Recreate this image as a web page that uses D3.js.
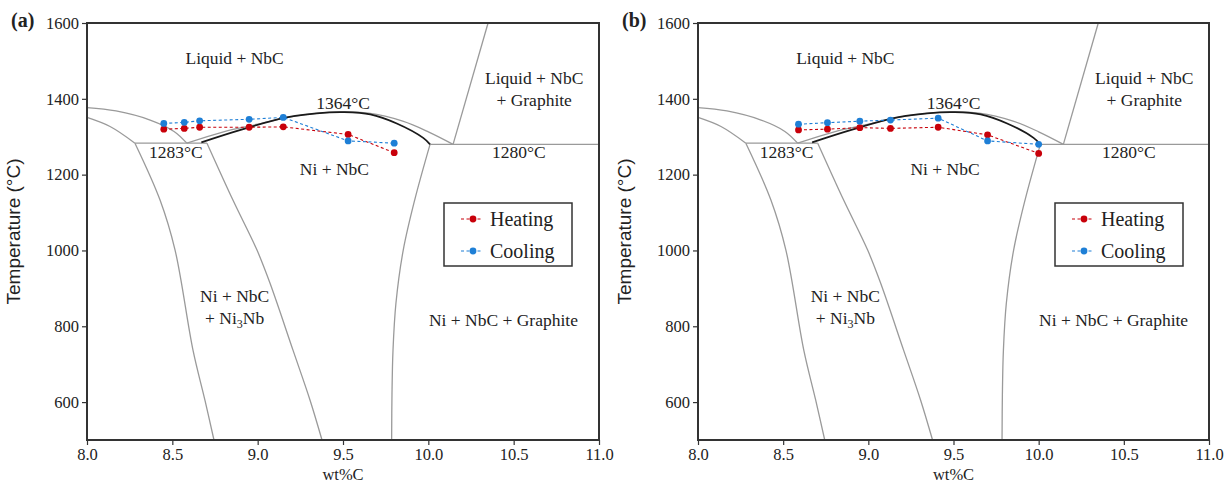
<!DOCTYPE html>
<html><head><meta charset="utf-8">
<script src="https://cdn.jsdelivr.net/npm/d3@7"></script>
<style>body{margin:0;background:#fff}</style>
</head><body><svg id="c" width="1231" height="485"></svg>
<script>
// ---- data ----
const xTicks = [8.0, 8.5, 9.0, 9.5, 10.0, 10.5, 11.0];
const yTicks = [600, 800, 1000, 1200, 1400, 1600];
const seriesNames = ["Heating", "Cooling"];

const heatA_wt = [8.45, 8.57, 8.66, 8.95, 9.15, 9.53, 9.80];
const heatA_T  = [1320, 1322, 1325, 1325, 1326, 1306, 1258];
const coolA_wt = [8.45, 8.57, 8.66, 8.95, 9.15, 9.53, 9.80];
const coolA_T  = [1335, 1338, 1342, 1346, 1351, 1289, 1283];

const heatB_wt = [8.59, 8.76, 8.95, 9.13, 9.41, 9.70, 10.0];
const heatB_T  = [1318, 1320, 1324, 1322, 1325, 1305, 1256];
const coolB_wt = [8.59, 8.76, 8.95, 9.13, 9.41, 9.70, 10.0];
const coolB_T  = [1333, 1337, 1341, 1344, 1349, 1289, 1280];

// phase boundaries [wt%C, T]
const liqLeftUpper = [[8.0,1377],[8.17,1368],[8.37,1344],[8.51,1314],[8.585,1283]];
const liqLeftLower = [[8.0,1351],[8.135,1327],[8.281,1283]];
const eutectic1283 = [[8.281,1283],[8.703,1283]];
const leftBoundary = [[8.281,1283],[8.428,1133],[8.516,1001],[8.621,737],[8.691,605],[8.744,500]];
const midBoundary  = [[8.703,1283],[8.855,1133],[8.996,1001],[9.072,914],[9.207,737],[9.307,605],[9.377,500]];
const liqRightGrey = [[8.585,1283],[8.8,1313],[9.0,1333],[9.2,1353],[9.45,1365],[9.65,1362],[9.85,1341],[10.0,1313],[10.145,1280]];
const liqRightBlack= [[8.67,1285],[8.9,1318],[9.17,1351],[9.42,1364],[9.5,1365],[9.66,1359],[9.815,1335],[9.97,1297],[10.01,1280]];
const graphiteLine = [[10.145,1280],[10.35,1600]];
const eutectic1280 = [[10.01,1280],[11.0,1280]];
const rightBoundary= [[10.01,1280],[9.92,1133],[9.853,1001],[9.81,860],[9.793,737],[9.787,620],[9.785,500]];

const RED = "#c8000a", BLUE = "#1e7fd6";
const SERIF = "'Liberation Serif', 'Times New Roman', serif";
const SANS = "'Liberation Sans', Arial, sans-serif";

const svg = d3.select("#c");

function panel(left, right, tag, heat_wt, heat_T, cool_wt, cool_T) {
  const top = 23, bottom = 440;
  const x = d3.scaleLinear().domain([8, 11]).range([left, right]);
  const y = d3.scaleLinear().domain([500, 1600]).range([bottom, top]);
  const g = svg.append("g");

  const line = d3.line().x(d => x(d[0])).y(d => y(d[1]));
  const curve = d3.line().x(d => x(d[0])).y(d => y(d[1])).curve(d3.curveCatmullRom.alpha(0.5));

  const grey = "#9a9a9a";
  [liqLeftUpper, liqLeftLower, leftBoundary, midBoundary, liqRightGrey, rightBoundary].forEach(p => {
    g.append("path").attr("d", curve(p)).attr("fill", "none").attr("stroke", grey).attr("stroke-width", 1.3);
  });
  [eutectic1283, graphiteLine, eutectic1280].forEach(p => {
    g.append("path").attr("d", line(p)).attr("fill", "none").attr("stroke", grey).attr("stroke-width", 1.3);
  });
  g.append("path").attr("d", curve(liqRightBlack)).attr("fill", "none").attr("stroke", "#1a1a1a").attr("stroke-width", 1.8);

  // data series
  const series = [
    {wt: heat_wt, T: heat_T, c: RED},
    {wt: cool_wt, T: cool_T, c: BLUE}
  ];
  series.forEach(s => {
    const pts = s.wt.map((w, i) => [w, s.T[i]]);
    g.append("path").attr("d", line(pts)).attr("fill", "none").attr("stroke", s.c)
      .attr("stroke-width", 1.1).attr("stroke-dasharray", "3,2.5");
    g.selectAll(null).data(pts).enter().append("circle")
      .attr("cx", d => x(d[0])).attr("cy", d => y(d[1])).attr("r", 3.4).attr("fill", s.c);
  });

  // labels
  const LS = 17.5;
  const lab = (txt, wt, T) => g.append("text").attr("x", x(wt)).attr("y", y(T))
      .attr("text-anchor", "middle").attr("font-family", SERIF).attr("font-size", LS)
      .attr("fill", "#222").text(txt);
  lab("Liquid + NbC", 8.865, 1493);
  lab("Liquid + NbC", 10.62, 1440);
  lab("+ Graphite", 10.62, 1380);
  lab("1364°C", 9.5, 1373);
  lab("1283°C", 8.52, 1245);
  lab("1280°C", 10.53, 1245);
  lab("Ni + NbC", 9.45, 1200);
  lab("Ni + NbC", 8.865, 865);
  const t3 = g.append("text").attr("x", x(8.865)).attr("y", y(805)).attr("text-anchor", "middle")
      .attr("font-family", SERIF).attr("font-size", LS).attr("fill", "#222");
  t3.append("tspan").text("+ Ni");
  t3.append("tspan").attr("font-size", 12).attr("dy", 4).text("3");
  t3.append("tspan").attr("dy", -4).text("Nb");
  lab("Ni + NbC + Graphite", 10.44, 800);

  // frame & axes
  g.append("rect").attr("x", left).attr("y", top).attr("width", right - left).attr("height", bottom - top)
    .attr("fill", "none").attr("stroke", "#333").attr("stroke-width", 2);
  const yAxis = g.append("g").attr("transform", `translate(${left},0)`)
    .call(d3.axisLeft(y).tickValues(yTicks).tickSize(5).tickFormat(d3.format("d")));
  const xAxis = g.append("g").attr("transform", `translate(0,${bottom})`)
    .call(d3.axisBottom(x).tickValues(xTicks).tickSize(5).tickFormat(d3.format(".1f")));
  [yAxis, xAxis].forEach(a => {
    a.select(".domain").remove();
    a.selectAll("line").attr("stroke", "#333").attr("stroke-width", 1.2);
    a.selectAll("text").attr("font-family", SERIF).attr("font-size", 16.5).attr("fill", "#222");
  });
  xAxis.selectAll("text").attr("dy", "0.72em");

  g.append("text").attr("x", (left + right) / 2).attr("y", 480).attr("text-anchor", "middle")
    .attr("font-family", SERIF).attr("font-size", 16.5).attr("fill", "#222").text("wt%C");
  g.append("text").attr("transform", `translate(${left - 67},${(top + bottom) / 2}) rotate(-90)`)
    .attr("text-anchor", "middle").attr("font-family", SANS).attr("font-size", 19).attr("fill", "#222")
    .text("Temperature (°C)");
  g.append("text").attr("x", left - 76).attr("y", 27).attr("font-family", SERIF).attr("font-weight", "bold")
    .attr("font-size", 20).attr("fill", "#222").text(tag);

  // legend
  const lx = left + 357, ly = 203;
  g.append("rect").attr("x", lx).attr("y", ly).attr("width", 128).attr("height", 63)
    .attr("fill", "#fff").attr("stroke", "#333").attr("stroke-width", 1.5);
  series.forEach((s, i) => {
    const yy = ly + 16 + i * 32;
    g.append("line").attr("x1", lx + 17).attr("x2", lx + 39).attr("y1", yy).attr("y2", yy)
      .attr("stroke", s.c).attr("stroke-width", 1.1).attr("stroke-dasharray", "3,2.5");
    g.append("circle").attr("cx", lx + 29).attr("cy", yy).attr("r", 3.4).attr("fill", s.c);
    g.append("text").attr("x", lx + 46).attr("y", yy).attr("dy", "0.35em")
      .attr("font-family", SERIF).attr("font-size", 20).attr("fill", "#222").text(seriesNames[i]);
  });
}

panel(87, 599, "(a)", heatA_wt, heatA_T, coolA_wt, coolA_T);
panel(698, 1209, "(b)", heatB_wt, heatB_T, coolB_wt, coolB_T);
</script>
</body></html>
